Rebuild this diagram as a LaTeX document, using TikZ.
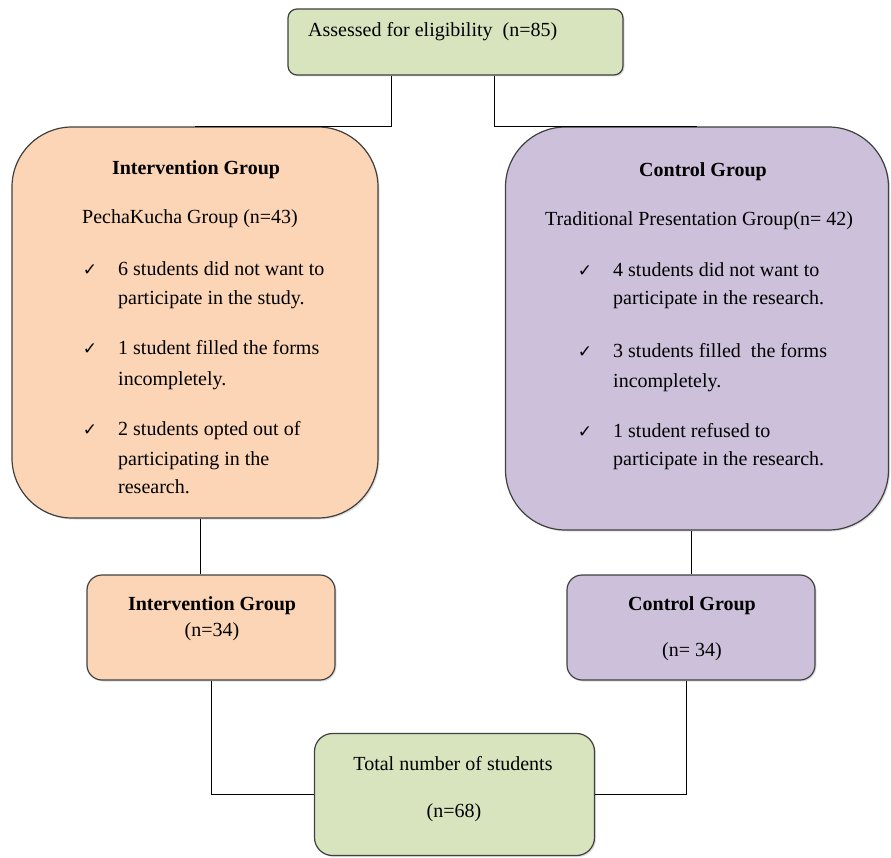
\documentclass[tikz,border=0pt]{standalone}
\usepackage{fontspec}
\setmainfont{Liberation Serif}
\newfontfamily\checkfont{DejaVu Sans}
\usepackage{tikz}
\usetikzlibrary{positioning, shadows}
\definecolor{BoxGreen}{RGB}{215,228,189}
\definecolor{BoxPeach}{RGB}{251,213,181}
\definecolor{BoxLilac}{RGB}{204,192,218}
\definecolor{EdgeGray}{RGB}{64,64,64}

\begin{document}
\begin{tikzpicture}[x=1pt, y=-1pt, font=\fontsize{20}{24}\selectfont,
	box/.style={rectangle, draw=EdgeGray, line width=1.2pt, inner sep=0pt,
		drop shadow={shadow xshift=1.5pt, shadow yshift=-1.5pt, opacity=0.25}},
	txt/.style={anchor=base west, inner sep=0pt},
	ctxt/.style={anchor=base, inner sep=0pt},
	chk/.style={anchor=base, inner sep=0pt, font=\checkfont\fontsize{17}{17}\selectfont},
	link/.style={draw=black, line width=1pt}]
	\useasboundingbox (0,0) rectangle (891,858);
	% boxes
	\node[box, fill=BoxGreen, rounded corners=9pt, minimum width=335pt,
		minimum height=66pt] (elig) at (455.5,42) {};
	\node[box, fill=BoxPeach, rounded corners=60pt, minimum width=366pt,
		minimum height=391pt] (lgrp) at (195,322.5) {};
	\node[box, fill=BoxLilac, rounded corners=60pt, minimum width=383pt,
		minimum height=403pt] (rgrp) at (697,328.5) {};
	\node[box, fill=BoxPeach, rounded corners=15pt, minimum width=248pt,
		minimum height=105pt] (lsmall) at (211,627.5) {};
	\node[box, fill=BoxLilac, rounded corners=15pt, minimum width=248pt,
		minimum height=105pt] (rsmall) at (691,627.5) {};
	\node[box, fill=BoxGreen, rounded corners=18pt, minimum width=280pt,
		minimum height=122pt] (total) at (454.5,794.5) {};
	% connectors
	\draw[link] (elig.south -| 391,0) |- (lgrp.north);
	\draw[link] (elig.south -| 494,0) |- (rgrp.north);
	\draw[link] (lgrp.south -| 200,0) -- (lsmall.north -| 200,0);
	\draw[link] (rsmall.north) -- (rsmall.north |- rgrp.south);
	\draw[link] (lsmall.south) |- (total.west);
	\draw[link] (rsmall.south -| 686,0) |- (total.east);
	% texts
	\node[txt] (eligtxt) at (308,37) {Assessed for eligibility~~(n=85)};
	\node[ctxt, font=\fontsize{20}{24}\selectfont\bfseries] (lhead) at (196,175) {Intervention Group};
	\node[txt] (lsub) at (82,224) {PechaKucha Group (n=43)};
	\foreach \n/\y/\t in {1/276/{6 students did not want to},
			2/305/{participate in the study.},
			3/355/{1 student filled the forms},
			4/385/{incompletely.},
			5/435/{2 students opted out of},
			6/465/{participating in the},
			7/493/{research.}}
		{\node[txt] (lt\n) at (118,\y) {\t};}
	\foreach \n/\y in {1/276, 2/355, 3/435}
		{\node[chk] (lc\n) at (90,\y) {✓};}
	\node[ctxt, font=\fontsize{20}{24}\selectfont\bfseries] (rhead) at (703,177) {Control Group};
	\node[txt] (rsub) at (545,226) {Traditional Presentation Group(n= 42)};
	\foreach \n/\y/\t in {1/277/{4 students did not want to},
			2/305/{participate in the research.},
			3/357/{3 students filled~ the forms},
			4/387/{incompletely.},
			5/437/{1 student refused to},
			6/465/{participate in the research.}}
		{\node[txt] (rt\n) at (613,\y) {\t};}
	\foreach \n/\y in {1/277, 2/357, 3/437}
		{\node[chk] (rc\n) at (585,\y) {✓};}
	\node[ctxt, font=\fontsize{20}{24}\selectfont\bfseries] (lsmallhead) at (212,610) {Intervention Group};
	\node[ctxt] (lsmalln) at (212,636) {(n=34)};
	\node[ctxt, font=\fontsize{20}{24}\selectfont\bfseries] (rsmallhead) at (692,610) {Control Group};
	\node[ctxt] (rsmalln) at (692,656) {(n= 34)};
	\node[ctxt] (totalhead) at (453,770) {Total number of students};
	\node[ctxt] (totaln) at (454,817) {(n=68)};
\end{tikzpicture}
\end{document}
